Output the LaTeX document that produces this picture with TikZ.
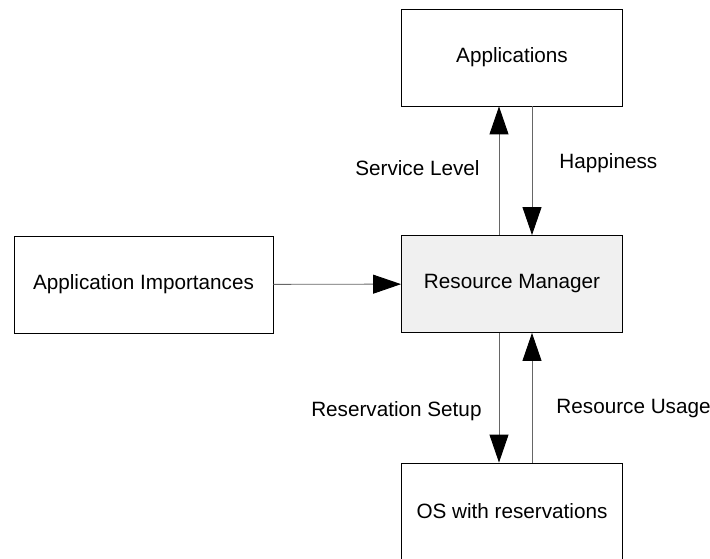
\documentclass[tikz,border=0pt]{standalone}
\usepackage{fontspec}
\setmainfont{Liberation Sans}
\usetikzlibrary{shapes, arrows.meta, positioning, calc}

\begin{document}
\begin{tikzpicture}[
        x=1pt, y=-1pt,
        box/.style={rectangle, draw=black, line width=0.9pt, fill=white, minimum width=221pt, minimum height=97pt, align=center, font=\fontsize{20.7}{24}\selectfont},
        manager/.style={box, fill=black!6},
        arrow/.style={-{Triangle[length=28pt, width=19pt, color=black, fill=black]}, draw=black!60, line width=0.9pt},
        note/.style={font=\fontsize{20.7}{24}\selectfont, inner sep=0pt}
    ]
        \useasboundingbox (0,0) rectangle (710,559);

        \node[box] (apps) at (512,57.5) {Applications};
        \node[manager] (rm) at (512,284) {Resource Manager};
        \node[box, minimum width=259pt] (imp) at (143.5,284.5) {Application Importances};
        \node[box] (os) at (512,511.5) {OS with reservations};

        \draw[arrow] (imp) -- (rm);
        \draw[arrow] ([xshift=-13pt]rm.north) -- ([xshift=-13pt]apps.south) node[pos=.52, left=19pt, note] {Service Level};
        \draw[arrow] ([xshift=20pt]apps.south) -- ([xshift=20pt]rm.north) node[pos=.44, right=27pt, note] {Happiness};
        \draw[arrow] ([xshift=-13pt]rm.south) -- ([xshift=-13pt]os.north) node[pos=.6, left=17pt, note] {Reservation Setup};
        \draw[arrow] ([xshift=20pt]os.north) -- ([xshift=20pt]rm.south) node[pos=.42, right=24pt, note] {Resource Usage};
    \end{tikzpicture}
\end{document}
